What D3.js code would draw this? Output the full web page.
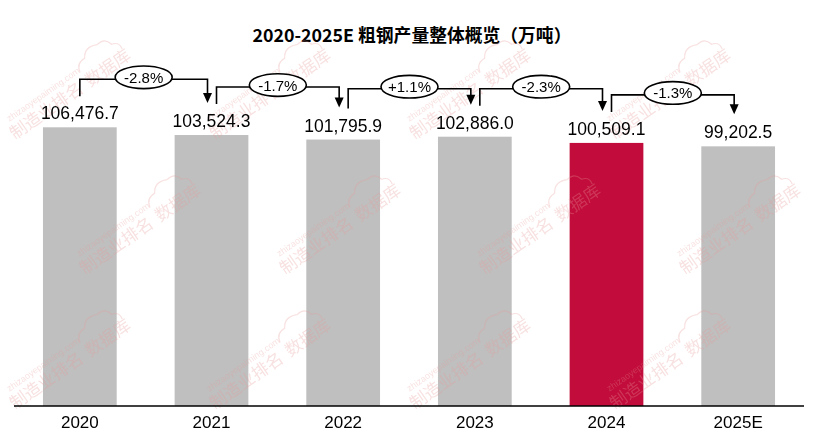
<!DOCTYPE html>
<html><head><meta charset="utf-8">
<script src="https://cdn.jsdelivr.net/npm/d3@7"></script>
<style>html,body{margin:0;padding:0;background:#fff;}svg{display:block;}</style>
</head><body>
<svg id="chart" width="831" height="444"></svg>
<script>
const years = ["2020","2021","2022","2023","2024","2025E"];
const output = [106476.7, 103524.3, 101795.9, 102886.0, 100509.1, 99202.5];
const changes = ["-2.8%","-1.7%","+1.1%","-2.3%","-1.3%"];
const highlightYear = "2024";
const title = "2020-2025E 粗钢产量整体概览（万吨）";

const W = 831, H = 444;
const svg = d3.select("#chart");
const font = "'Liberation Sans', Arial, sans-serif";

// title
svg.append("text").attr("x", 412).attr("y", 42).attr("text-anchor", "middle")
  .attr("font-family", "'Noto Sans CJK SC', sans-serif").attr("font-weight", "bold")
  .attr("font-size", 17.8).attr("fill", "#000").text(title);

const x = d3.scaleBand().domain(years).range([14, 804]).paddingInner(0.44).paddingOuter(0.22);
const y = d3.scaleLinear().domain([0, 106476.7]).range([406, 127.3]);

// bars
svg.append("g").selectAll("rect").data(years).join("rect")
  .attr("x", d => x(d)).attr("width", x.bandwidth())
  .attr("y", (d, i) => y(output[i])).attr("height", (d, i) => y(0) - y(output[i]))
  .attr("fill", d => d === highlightYear ? "#C20C3B" : "#BFBFBF");

// faint watermarks over the bars, kept inside the canvas
const wm = svg.append("g").attr("opacity", 0.3);
const wmPos = [];
for (let r = 0; r < 3; r++) for (let c = 0; c < 4; c++) wmPos.push([c * 200 + (r % 2) * 70 + 15, r * 135 + 140]);
wmPos.forEach(([x, y]) => {
  const g = wm.append("g").attr("transform", `translate(${x},${y}) rotate(-35)`);
  g.append("text").attr("x", 0).attr("y", 0).attr("font-family", "'Noto Sans CJK SC'")
    .attr("font-size", 17).attr("fill", "#e89a9a").text("制造业排名");
  g.append("text").attr("x", 6).attr("y", -18).attr("font-family", font)
    .attr("font-size", 9).attr("fill", "#e89a9a").text("zhizaoyepaiming.com");
  g.append("text").attr("x", 92).attr("y", 0).attr("font-family", "'Noto Sans CJK SC'")
    .attr("font-size", 17).attr("fill", "#e89a9a").text("数据库");
  g.append("path").attr("d", "M92,-18 q2,-10 12,-9 q6,-10 18,-4 q10,-2 12,8 q8,2 6,10")
    .attr("fill", "none").attr("stroke", "#e89a9a").attr("stroke-width", 1.2);
});

// value labels
svg.append("g").selectAll("text").data(years).join("text")
  .attr("x", d => x(d) + x.bandwidth() / 2).attr("y", (d, i) => y(output[i]) - 8)
  .attr("text-anchor", "middle").attr("font-family", font).attr("font-size", 17.5).attr("fill", "#000")
  .text((d, i) => d3.format(",.1f")(output[i]));

// axis
const axis = svg.append("g").attr("transform", "translate(0,406)")
  .call(d3.axisBottom(x).tickSize(0).tickPadding(10));
axis.select(".domain").attr("stroke", "#000").attr("stroke-width", 1.3).attr("d", "M14,0H804");
axis.selectAll("text").attr("font-family", font).attr("font-size", 17).attr("fill", "#000");

// change brackets
const cx = d => x(d) + x.bandwidth() / 2;
const br = svg.append("g");
changes.forEach((c, i) => {
  const a = years[i], b = years[i + 1];
  const x0 = cx(a) + (i === 0 ? 0 : 5), x1 = cx(b) - 4;
  const top = y(Math.max(output[i], output[i + 1])) - 48;
  const y0 = y(output[i]) - 31;
  const y1 = y(output[i + 1]) - 32;
  br.append("path").attr("d", `M${x0},${y0}V${top}H${x1}V${y1 - 9}`)
    .attr("fill", "none").attr("stroke", "#000").attr("stroke-width", 1.6);
  br.append("path").attr("d", `M${x1 - 4.5},${y1 - 10}L${x1 + 4.5},${y1 - 10}L${x1},${y1}Z`).attr("fill", "#000");
  const mx = (x0 + x1) / 2;
  br.append("ellipse").attr("cx", mx).attr("cy", top - 2).attr("rx", 28.5).attr("ry", 11.3)
    .attr("fill", "#fff").attr("stroke", "#000").attr("stroke-width", 1.6);
  br.append("text").attr("x", mx).attr("y", top + 3.5).attr("text-anchor", "middle")
    .attr("font-family", font).attr("font-size", 15).attr("fill", "#000").text(c);
});
</script>
</body></html>
